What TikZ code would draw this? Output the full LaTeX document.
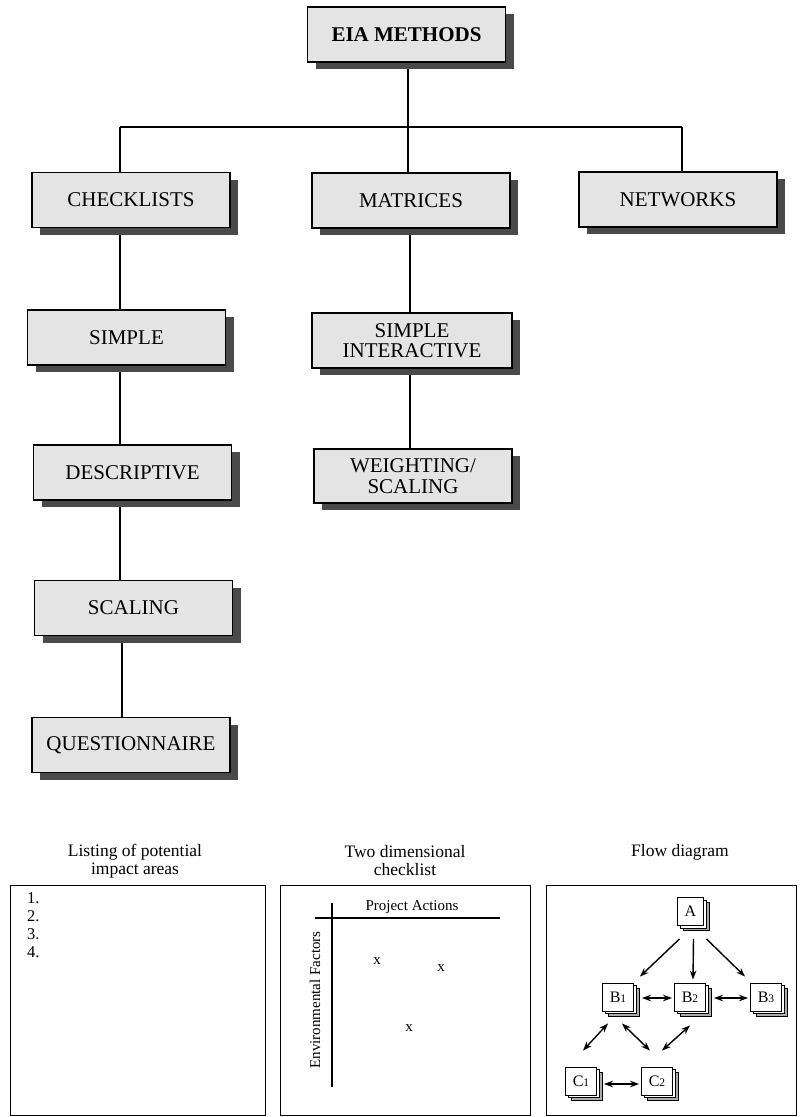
\documentclass[tikz,border=0pt]{standalone}
\usepackage{fontspec}
\setmainfont{Liberation Serif}
\usetikzlibrary{shadows,arrows.meta,calc}
\definecolor{boxgrey}{HTML}{E4E4E4}
\definecolor{shadowgrey}{HTML}{4A4A4A}
\pgfdeclarelayer{bg}
\pgfsetlayers{bg,main}

\begin{document}
\begin{tikzpicture}[x=1pt,y=-1pt,
  methodbox/.style={draw=black, line width=1.4pt, fill=boxgrey,
    minimum width=198pt, minimum height=55pt, inner sep=2pt, align=center,
    font=\fontsize{21}{20.5}\selectfont,
    general shadow={fill=shadowgrey, draw=none, shadow xshift=8pt, shadow yshift=-7pt}},
  link/.style={line width=1.5pt, black},
  panel/.style={draw=black, line width=1.4pt, fill=white, anchor=north west,
    minimum width=#1, minimum height=230pt, inner sep=0pt},
  caption/.style={align=center, font=\fontsize{17.5}{18}\selectfont},
  flowbox/.style={draw=black, fill=white, line width=0.9pt, minimum width=31pt,
    minimum height=28pt, inner sep=1pt, font=\fontsize{16}{16}\selectfont,
    general shadow={draw=black, fill=gray!65, line width=0.5pt, shadow xshift=6pt, shadow yshift=-5pt},
    general shadow={draw=black, fill=white, line width=0.5pt, shadow xshift=3pt, shadow yshift=-2.5pt}},
  tip/.tip={Stealth[length=9pt,width=6.5pt]},
  farrow/.style={line width=1.4pt, -tip},
  fboth/.style={line width=1.4pt, tip-tip},
  small/.style={font=\fontsize{15}{15}\selectfont}
]
\newcommand{\subd}[1]{{\fontsize{11.5}{11.5}\selectfont #1}}

% page
\useasboundingbox (0,0) rectangle (802,1117);

% ---- method tree ----
\node[methodbox, font=\bfseries\fontsize{21}{20.5}\selectfont] (eia) at (406.5,34.5) {EIA METHODS};
\node[methodbox] (checklists) at (131,200) {CHECKLISTS};
\node[methodbox] (matrices) at (411,200.5) {MATRICES};
\node[methodbox] (networks) at (678,199.5) {NETWORKS};
\node[methodbox] (simple) at (126.5,337.5) {SIMPLE};
\node[methodbox] (descriptive) at (132.5,472.5) {DESCRIPTIVE};
\node[methodbox] (scaling) at (133.5,608) {SCALING};
\node[methodbox] (questionnaire) at (131,745) {QUESTIONNAIRE};
\node[methodbox, minimum width=200pt] (interactive) at (412,340.5) {SIMPLE\\INTERACTIVE};
\node[methodbox, minimum height=54pt] (weighting) at (413,476) {WEIGHTING/\\SCALING};

\coordinate (trunkL) at (120,127);
\coordinate (trunkM) at (408,127);
\coordinate (trunkR) at (682,127);
\coordinate (spineL) at (120,0);
\coordinate (spineM) at (410,0);

\begin{pgfonlayer}{bg}
  \fill[white] (0,0) rectangle (802,1117);
  \draw[link] (eia.south -| trunkM) -- (trunkM);
  \draw[link] (trunkL) -- (trunkR);
  \draw[link] (trunkL) -- (checklists.north -| trunkL);
  \draw[link] (trunkM) -- (matrices.north -| trunkM);
  \draw[link] (trunkR) -- (networks.north -| trunkR);
  \draw[link] (checklists.south -| spineL) -- (simple.north -| spineL);
  \draw[link] (simple.south -| spineL) -- (descriptive.north -| spineL);
  \draw[link] (descriptive.south -| spineL) -- (scaling.north -| spineL);
  \draw[link] ([xshift=2pt]scaling.south -| spineL) -- ([xshift=2pt]questionnaire.north -| spineL);
  \draw[link] (matrices.south -| spineM) -- (interactive.north -| spineM);
  \draw[link] (interactive.south -| spineM) -- (weighting.north -| spineM);
\end{pgfonlayer}

% ---- example panels ----
\node[caption] (cap1) at (135,861) {Listing of potential\\impact areas};
\node[caption] (cap2) at (405,861) {Two dimensional\\checklist};
\node[caption] (cap3) at (680,852) {Flow diagram};

\node[panel=255pt] (p1) at (10,885) {};
\node[panel=250pt] (p2) at (280,885) {};
\node[panel=250pt] (p3) at (546,885) {};

% listing
\node[anchor=north west, align=left, inner sep=0pt, font=\fontsize{16.5}{18}\selectfont] (list) at (27,892) {1.\\2.\\3.\\4.};

% two dimensional checklist
\coordinate (vtop) at (332,903);
\coordinate (vbot) at (332,1087);
\coordinate (hleft) at (315,918);
\coordinate (hright) at (500,918);
\draw[line width=1.8pt] (vtop) -- (vbot);
\draw[line width=1.8pt] (hleft) -- (hright);
\node[small] (actions) at (412,907) {Project Actions};
\node[small, rotate=90] (factors) at (315,1000) {Environmental Factors};
\node[small] (x1) at (377,961) {x};
\node[small] (x2) at (441,968) {x};
\node[small] (x3) at (409,1028) {x};

% flow diagram
\node[flowbox, minimum width=26pt] (A) at (690.5,911.5) {A};
\node[flowbox] (B1) at (618,997) {B\subd{1}};
\node[flowbox] (B2) at (690,997) {B\subd{2}};
\node[flowbox] (B3) at (766,997) {B\subd{3}};
\node[flowbox] (C1) at (581,1081) {C\subd{1}};
\node[flowbox] (C2) at (657,1081) {C\subd{2}};

\draw[farrow] ($(A.south)+(-11,13)$) -- ($(B1.north east)+(6,-6)$);
\draw[farrow] ($(A.south)+(3,13)$) -- ($(B2.north)+(3,-3)$);
\draw[farrow] ($(A.south)+(16,13)$) -- ($(B3.north west)+(-5,-6)$);
\draw[fboth] ($(B1.east)+(8,1)$) -- ($(B2.west)+(-2,1)$);
\draw[fboth] ($(B2.east)+(8,1)$) -- ($(B3.west)+(-2,1)$);
\draw[fboth] ($(B1.south)+(-10,12)$) -- ($(C1.north)+(2,-16)$);
\draw[fboth] ($(B1.south)+(4,12)$) -- ($(C2.north)+(-7,-16)$);
\draw[fboth] ($(B2.south)+(0,14)$) -- ($(C2.north)+(5,-16)$);
\draw[fboth] ($(C1.east)+(7,3)$) -- ($(C2.west)+(-2,3)$);
\end{tikzpicture}
\end{document}
